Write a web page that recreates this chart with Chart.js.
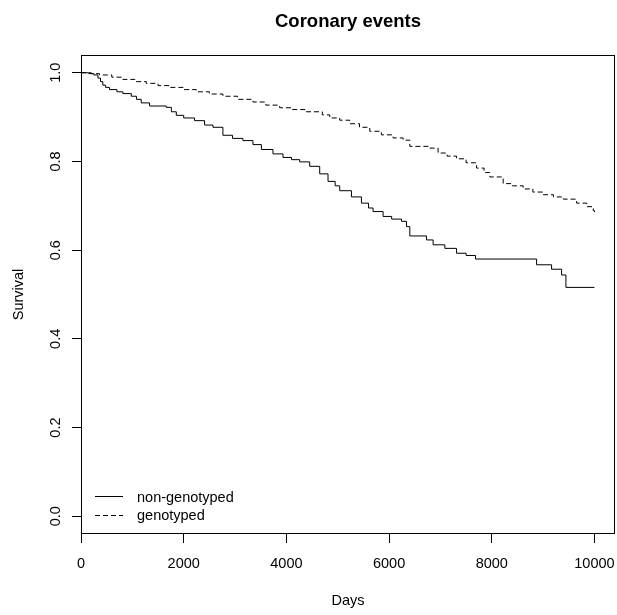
<!DOCTYPE html>
<html>
<head>
<meta charset="utf-8">
<script src="https://cdn.jsdelivr.net/npm/chart.js@4"></script>
<style>
  html, body { margin: 0; padding: 0; background: #fff; overflow: hidden; }
  #c { display: block; }
</style>
</head>
<body>
<canvas id="c" width="617" height="615"></canvas>
<script>
const chartTitle = 'Coronary events';
const xAxisTitle = 'Days';
const yAxisTitle = 'Survival';
const seriesNames = ['non-genotyped', 'genotyped'];

const xTickValues = [0, 2000, 4000, 6000, 8000, 10000];
const xTickLabels = ['0', '2000', '4000', '6000', '8000', '10000'];
const yTickValues = [0, 0.2, 0.4, 0.6, 0.8, 1.0];
const yTickLabels = ['0.0', '0.2', '0.4', '0.6', '0.8', '1.0'];

const daysNonGenotyped = [0, 150, 250, 330, 380, 425, 480, 555, 700, 815, 980, 1080, 1173, 1335, 1660, 1760, 1856, 2000, 2212, 2407, 2570, 2764, 2950, 3154, 3349, 3513, 3739, 3934, 4100, 4259, 4454, 4649, 4811, 4950, 5039, 5267, 5462, 5600, 5688, 5883, 6050, 6242, 6339, 6404, 6729, 6858, 7086, 7314, 7500, 7684, 8873, 9165, 9360, 9444, 10000];
const survivalNonGenotyped = [1.0, 0.998, 0.995, 0.988, 0.980, 0.972, 0.967, 0.962, 0.957, 0.953, 0.947, 0.940, 0.932, 0.925, 0.922, 0.912, 0.904, 0.898, 0.892, 0.882, 0.877, 0.859, 0.852, 0.847, 0.838, 0.827, 0.817, 0.809, 0.804, 0.799, 0.789, 0.772, 0.755, 0.745, 0.734, 0.720, 0.706, 0.695, 0.687, 0.676, 0.670, 0.665, 0.653, 0.632, 0.623, 0.612, 0.604, 0.593, 0.588, 0.580, 0.567, 0.557, 0.544, 0.516, 0.516];

const daysGenotyped = [0, 200, 360, 600, 815, 1050, 1271, 1500, 1725, 2000, 2245, 2500, 2764, 3050, 3349, 3600, 3869, 4100, 4390, 4700, 4844, 5039, 5234, 5424, 5624, 5850, 6078, 6273, 6404, 6793, 6955, 7130, 7314, 7500, 7704, 7850, 7963, 8222, 8400, 8612, 8800, 9002, 9200, 9392, 9652, 9850, 9977, 10000];
const survivalGenotyped = [1.0, 0.998, 0.995, 0.990, 0.985, 0.980, 0.976, 0.971, 0.967, 0.962, 0.957, 0.952, 0.947, 0.940, 0.934, 0.927, 0.921, 0.917, 0.912, 0.905, 0.898, 0.893, 0.885, 0.877, 0.868, 0.860, 0.853, 0.848, 0.834, 0.830, 0.819, 0.812, 0.806, 0.797, 0.785, 0.775, 0.765, 0.750, 0.745, 0.738, 0.731, 0.725, 0.720, 0.715, 0.706, 0.698, 0.689, 0.686];

const FONT = "'Liberation Sans', Arial, Helvetica, sans-serif";
const BASE = 14.5;

function toPoints(xs, ys) { return xs.map((x, i) => ({ x: x, y: ys[i] })); }

const rStyle = {
  id: 'rStyle',
  afterDraw(chart) {
    const ctx = chart.ctx;
    const a = chart.chartArea;
    const ys = chart.scales.y;
    ctx.save();
    // box
    ctx.strokeStyle = '#000';
    ctx.lineWidth = 1;
    ctx.setLineDash([]);
    ctx.strokeRect(Math.round(a.left) + 0.5, Math.round(a.top) + 0.5,
                   Math.round(a.right - a.left) - 1, Math.round(a.bottom - a.top) - 1);
    ctx.fillStyle = '#000';
    // title
    ctx.font = 'bold 18.5px ' + FONT;
    ctx.textAlign = 'center';
    ctx.textBaseline = 'alphabetic';
    ctx.fillText(chartTitle, (a.left + a.right) / 2, 27);
    // x axis title
    ctx.textBaseline = 'middle';
    ctx.font = BASE + 'px ' + FONT;
    ctx.fillText(xAxisTitle, (a.left + a.right) / 2, 601);
    // y axis title
    ctx.save();
    ctx.translate(19, (a.top + a.bottom) / 2);
    ctx.rotate(-Math.PI / 2);
    ctx.fillText(yAxisTitle, 0, 0);
    ctx.restore();
    // y tick labels (rotated, R style)
    yTickValues.forEach((v, i) => {
      ctx.save();
      ctx.translate(56, ys.getPixelForValue(v));
      ctx.rotate(-Math.PI / 2);
      ctx.fillText(yTickLabels[i], 0, 0);
      ctx.restore();
    });
    // legend
    const lx0 = 95, lx1 = 123, tx = 137;
    const rows = [496, 514.5];
    chart.data.datasets.forEach((ds, i) => {
      ctx.beginPath();
      ctx.setLineDash(ds.borderDash || []);
      ctx.lineWidth = 1;
      ctx.strokeStyle = ds.borderColor;
      ctx.moveTo(lx0, Math.round(rows[i]) + 0.5);
      ctx.lineTo(lx1, Math.round(rows[i]) + 0.5);
      ctx.stroke();
      ctx.setLineDash([]);
      ctx.textAlign = 'left';
      ctx.textBaseline = 'middle';
      ctx.fillText(ds.label, tx, rows[i] + 1.5);
    });
    ctx.restore();
  }
};

new Chart(document.getElementById('c'), {
  type: 'line',
  data: {
    datasets: [
      {
        label: seriesNames[0],
        data: toPoints(daysNonGenotyped, survivalNonGenotyped),
        borderColor: '#000',
        borderWidth: 1,
        stepped: 'before',
        pointRadius: 0,
        fill: false
      },
      {
        label: seriesNames[1],
        data: toPoints(daysGenotyped, survivalGenotyped),
        borderColor: '#000',
        borderWidth: 1,
        borderDash: [5, 3],
        stepped: 'before',
        pointRadius: 0,
        fill: false
      }
    ]
  },
  options: {
    responsive: false,
    animation: false,
    devicePixelRatio: 1,
    layout: { padding: { top: 55, right: 2, left: 0, bottom: 0 } },
    plugins: {
      legend: { display: false },
      title: { display: false },
      tooltip: { enabled: false }
    },
    scales: {
      x: {
        type: 'linear',
        min: 0,
        max: 10400,
        border: { display: false },
        grid: { drawOnChartArea: false, drawTicks: true, tickLength: 9, color: '#000', tickColor: '#000', lineWidth: 1 },
        afterBuildTicks: (s) => { s.ticks = xTickValues.map(v => ({ value: v })); },
        ticks: {
          autoSkip: false,
          maxRotation: 0,
          minRotation: 0,
          padding: 12,
          color: '#000',
          font: { family: FONT, size: BASE },
          callback: (v, i) => xTickLabels[i]
        },
        afterFit: (s) => { s.height = 81; s.paddingLeft = 0; s.paddingRight = 0; }
      },
      y: {
        type: 'linear',
        min: -0.04,
        max: 1.04,
        border: { display: false },
        grid: { drawOnChartArea: false, drawTicks: true, tickLength: 9, color: '#000', tickColor: '#000', lineWidth: 1 },
        afterBuildTicks: (s) => { s.ticks = yTickValues.map(v => ({ value: v })); },
        ticks: { display: false },
        afterFit: (s) => { s.width = 81; s.paddingTop = 0; s.paddingBottom = 0; }
      }
    }
  },
  plugins: [rStyle]
});
</script>
</body>
</html>
